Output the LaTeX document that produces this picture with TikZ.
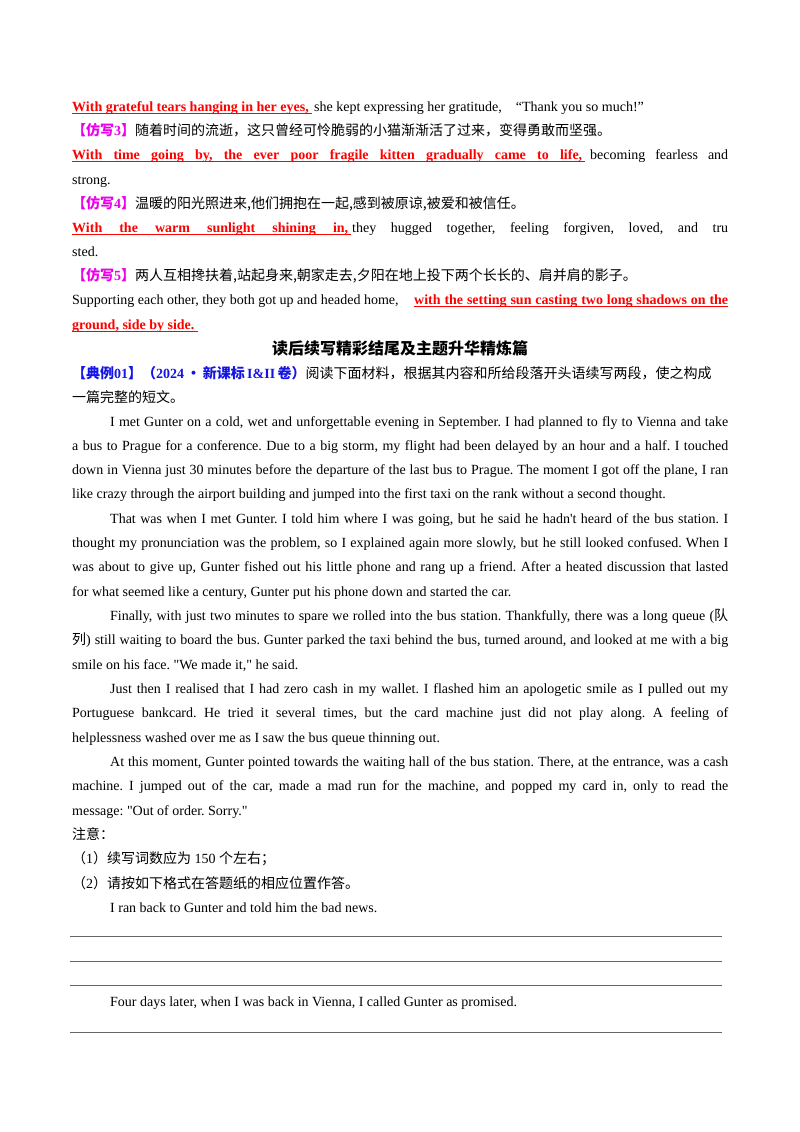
\documentclass[tikz,border=0pt]{standalone}
\usepackage{fontspec}
\setmainfont[Ligatures=TeXOff]{Liberation Serif}
\newfontfamily\cjk{Noto Sans CJK SC}
\newcommand\zh[1]{{\cjk #1}}
\newcommand\qq{\symbol{34}}
\definecolor{rd}{RGB}{255,0,0}
\definecolor{mg}{RGB}{235,0,235}
\definecolor{bl}{RGB}{20,20,230}
\newcommand\Lj[4]{\node[txt] (#1) at (#2,#3) {\makebox[\dimexpr728pt-#2pt\relax][s]{#4}};}
\newcommand\Ll[4]{\node[txt] (#1) at (#2,#3) {#4};}
\newcommand\Ul[1]{\draw[ul] ([yshift=-2.8pt]#1.base west) -- ([yshift=-2.8pt,xshift=3pt]#1.base east);}
\begin{document}
\frenchspacing
\begin{tikzpicture}[x=1pt,y=-1pt,
  txt/.style={anchor=base west,inner sep=0pt,font=\fontsize{14}{16}\selectfont},
  ul/.style={draw=rd,line width=0.9pt}]
\useasboundingbox[fill=white] (0,0) rectangle (800,1132);
% top sample lines
\Ll{r1}{72}{111}{\bfseries\color{rd}With grateful tears hanging in her eyes,}
\Ul{r1}
\node[txt] (b1) at ([xshift=5pt]r1.base east) {she kept expressing her gratitude,\quad “Thank you so much!”};
\Ll{f3}{72}{135}{{\bfseries\color{mg}\zh{【仿写}3\zh{】}}\zh{随着时间的流逝，这只曾经可怜脆弱的小猫渐渐活了过来，变得勇敢而坚强。}}
\node[txt] (r3) at (72,159) {\makebox[510pt][s]{\bfseries\color{rd}With time going by, the ever poor fragile kitten gradually came to life,}};
\Ul{r3}
\node[txt] (b3) at (590,159) {\makebox[138pt][s]{becoming fearless and}};
\Ll{b3b}{72}{184}{strong.}
\Ll{f4}{72}{208}{{\bfseries\color{mg}\zh{【仿写}4\zh{】}}\zh{温暖的阳光照进来,他们拥抱在一起,感到被原谅,被爱和被信任。}}
\node[txt] (r4) at (72,232) {\makebox[276pt][s]{\bfseries\color{rd}With the warm sunlight shining in,}};
\Ul{r4}
\Lj{b4}{352}{232}{they hugged together, feeling forgiven, loved, and tru}
\Ll{b4b}{72}{256}{sted.}
\Ll{f5}{72}{280}{{\bfseries\color{mg}\zh{【仿写}5\zh{】}}\zh{两人互相搀扶着,站起身来,朝家走去,夕阳在地上投下两个长长的、肩并肩的影子。}}
\Ll{b5}{72}{304}{Supporting each other, they both got up and headed home,}
\Lj{r5}{414}{304}{\bfseries\color{rd}with the setting sun casting two long shadows on the}
\draw[ul] ([yshift=-2.8pt]r5.base west) -- ([yshift=-2.8pt]r5.base east);
\Ll{r5b}{72}{329}{\bfseries\color{rd}ground, side by side.}
\Ul{r5b}
% title
\node[inner sep=0pt,anchor=base,font=\cjk\bfseries\fontsize{16}{18}\selectfont] (title) at (400,354) {读后续写精彩结尾及主题升华精炼篇};
\Lj{ex}{72}{378}{\mbox{\bfseries\color{bl}\zh{【典例}01\zh{】（}2024\,\zh{•}\,\zh{新课标}\,I\&II\,\zh{卷）}}\zh{阅读下面材料，根据其内容和所给段落开头语续写两段，使之构成}}
\Ll{ex2}{72}{402}{\zh{一篇完整的短文。}}
% passage
\Lj{p1}{110}{426}{I met Gunter on a cold, wet and unforgettable evening in September. I had planned to fly to Vienna and take}
\Lj{p2}{72}{450}{a bus to Prague for a conference. Due to a big storm, my flight had been delayed by an hour and a half. I touched}
\Lj{p3}{72}{474}{down in Vienna just 30 minutes before the departure of the last bus to Prague. The moment I got off the plane, I ran}
\Ll{p4}{72}{498}{like crazy through the airport building and jumped into the first taxi on the rank without a second thought.}
\Lj{q1}{110}{523}{That was when I met Gunter. I told him where I was going, but he said he hadn't heard of the bus station. I}
\Lj{q2}{72}{547}{thought my pronunciation was the problem, so I explained again more slowly, but he still looked confused. When I}
\Lj{q3}{72}{571}{was about to give up, Gunter fished out his little phone and rang up a friend. After a heated discussion that lasted}
\Ll{q4}{72}{596}{for what seemed like a century, Gunter put his phone down and started the car.}
\Lj{s1}{110}{620}{Finally, with just two minutes to spare we rolled into the bus station. Thankfully, there was a long queue (\zh{队}}
\Lj{s2}{72}{644}{\zh{列}) still waiting to board the bus. Gunter parked the taxi behind the bus, turned around, and looked at me with a big}
\Ll{s3}{72}{669}{smile on his face. \qq We made it,\qq{} he said.}
\Lj{t1}{110}{693}{Just then I realised that I had zero cash in my wallet. I flashed him an apologetic smile as I pulled out my}
\Lj{t2}{72}{717}{Portuguese bankcard. He tried it several times, but the card machine just did not play along. A feeling of}
\Ll{t3}{72}{742}{helplessness washed over me as I saw the bus queue thinning out.}
\Lj{u1}{110}{766}{At this moment, Gunter pointed towards the waiting hall of the bus station. There, at the entrance, was a cash}
\Lj{u2}{72}{790}{machine. I jumped out of the car, made a mad run for the machine, and popped my card in, only to read the}
\Ll{u3}{72}{815}{message: \qq Out of order. Sorry.\qq}
\Ll{n0}{72}{839}{\zh{注意：}}
\Ll{n1}{72}{863}{\zh{（}1\zh{）续写词数应为} 150 \zh{个左右；}}
\Ll{n2}{72}{888}{\zh{（}2\zh{）请按如下格式在答题纸的相应位置作答。}}
\Ll{w1}{110}{912}{I ran back to Gunter and told him the bad news.}
\foreach \yy/\nm in {936/a,961/b,985/c,1032/d}{
  \coordinate (L\nm1) at (70,\yy); \coordinate (L\nm2) at (722,\yy);
  \draw[gray!80!black,line width=0.6pt] (L\nm1) -- (L\nm2);}
\Ll{w2}{110}{1006}{Four days later, when I was back in Vienna, I called Gunter as promised.}
\end{tikzpicture}
\end{document}
